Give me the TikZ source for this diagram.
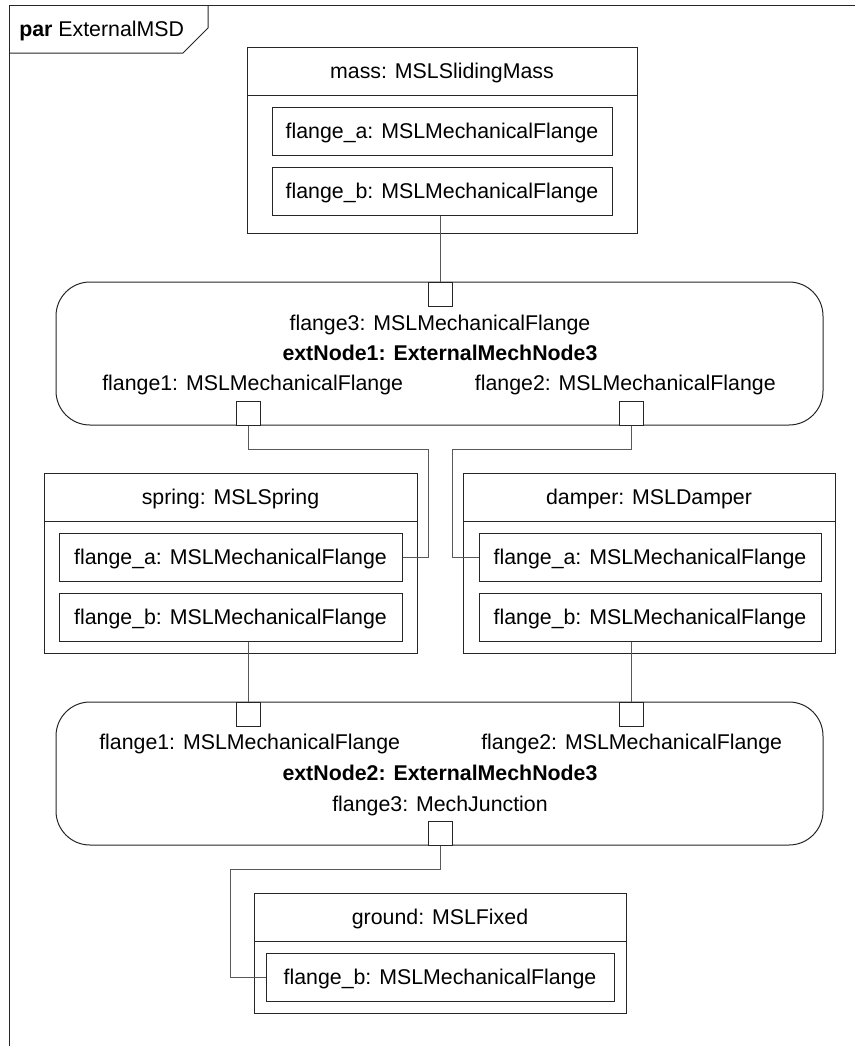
\documentclass[tikz,border=0pt]{standalone}
\usepackage{fontspec}
\setmainfont{Liberation Sans}
\usetikzlibrary{fit}

\tikzset{
  part/.style={draw=black!85, line width=0.75pt, inner sep=0pt},
  rpart/.style={part, rounded corners=25.5pt},
  port/.style={draw=black!85, fill=white, line width=0.75pt, minimum size=18pt, inner sep=0pt},
  lbl/.style={anchor=base, inner sep=0pt, font=\fontsize{16}{19}\selectfont},
  conn/.style={draw=black!65, line width=0.75pt},
}

\begin{document}
\begin{tikzpicture}[x=0.75pt, y=-0.75pt]
\useasboundingbox (0,0) rectangle (861,1046);

% diagram frame and its name tab
\coordinate (fbl) at (9,1046);
\coordinate (ftl) at (9,5);
\coordinate (ftr) at (855,5);
\draw[part] (fbl) -- (ftl) -- (ftr);
\draw[part] (9,53) -- (183,53) -- (208,28) -- (208,5);
\node[lbl, anchor=base west] (title) at (19,36) {\textbf{par} ExternalMSD};

% mass
\node[part, fit={(247,47) (637,233)}] (mass) {};
\draw[part] (247,95) -- (637,95);
\node[lbl] (massT) at (442,78.5) {mass: MSLSlidingMass};
\node[part, fit={(272,107) (612,155)}] (massA) {};
\node[lbl] at (442,138.5) {flange\_a: MSLMechanicalFlange};
\node[part, fit={(272,167) (612,215)}] (massB) {};
\node[lbl] at (442,198.5) {flange\_b: MSLMechanicalFlange};

% extNode1
\node[rpart, fit={(56,282) (823,425)}] (e1) {};
\node[lbl] at (440,330) {flange3: MSLMechanicalFlange};
\node[lbl] at (440,360) {\textbf{extNode1: ExternalMechNode3}};
\node[lbl, anchor=base west] at (102,390) {flange1: MSLMechanicalFlange};
\node[lbl, anchor=base east] at (776,390) {flange2: MSLMechanicalFlange};
\node[port] (e1p3) at (440,294) {};
\node[port] (e1p1) at (248.5,413) {};
\node[port] (e1p2) at (631,413) {};

% spring
\node[part, fit={(44,473) (417,653)}] (spring) {};
\draw[part] (44,521) -- (417,521);
\node[lbl] at (230.5,504.5) {spring: MSLSpring};
\node[part, fit={(59,533) (402,581)}] (springA) {};
\node[lbl] at (230.5,564.5) {flange\_a: MSLMechanicalFlange};
\node[part, fit={(59,593) (402,641)}] (springB) {};
\node[lbl] at (230.5,624.5) {flange\_b: MSLMechanicalFlange};

% damper
\node[part, fit={(463,473) (835,653)}] (damper) {};
\draw[part] (463,521) -- (835,521);
\node[lbl] at (649,504.5) {damper: MSLDamper};
\node[part, fit={(479,533) (821,581)}] (damperA) {};
\node[lbl] at (650,564.5) {flange\_a: MSLMechanicalFlange};
\node[part, fit={(479,593) (821,641)}] (damperB) {};
\node[lbl] at (650,624.5) {flange\_b: MSLMechanicalFlange};

% extNode2
\node[rpart, fit={(56,702) (823,845)}] (e2) {};
\node[lbl, anchor=base west] at (99,749) {flange1: MSLMechanicalFlange};
\node[lbl, anchor=base west] at (481,749) {flange2: MSLMechanicalFlange};
\node[lbl] at (440,780) {\textbf{extNode2: ExternalMechNode3}};
\node[lbl] at (440,811) {flange3: MechJunction};
\node[port] (e2p1) at (248.5,714) {};
\node[port] (e2p2) at (631,714) {};
\node[port] (e2p3) at (440,833) {};

% ground
\node[part, fit={(254,893) (626,1013)}] (ground) {};
\draw[part] (254,941) -- (626,941);
\node[lbl] at (440,924.5) {ground: MSLFixed};
\node[part, fit={(266,953) (614,1001)}] (groundB) {};
\node[lbl] at (440,984.5) {flange\_b: MSLMechanicalFlange};

% connectors
\coordinate (k1) at (428,449);
\coordinate (k2) at (452,449);
\coordinate (k3) at (230,869);
\draw[conn] (massB.south -| e1p3.north) -- (e1p3.north);
\draw[conn] (e1p1.south) |- (k1) |- (springA.east);
\draw[conn] (e1p2.south) |- (k2) |- (damperA.west);
\draw[conn] (springB.south -| e2p1.north) -- (e2p1.north);
\draw[conn] (damperB.south -| e2p2.north) -- (e2p2.north);
\draw[conn] (e2p3.south) |- (k3) |- (groundB.west);
\end{tikzpicture}
\end{document}
